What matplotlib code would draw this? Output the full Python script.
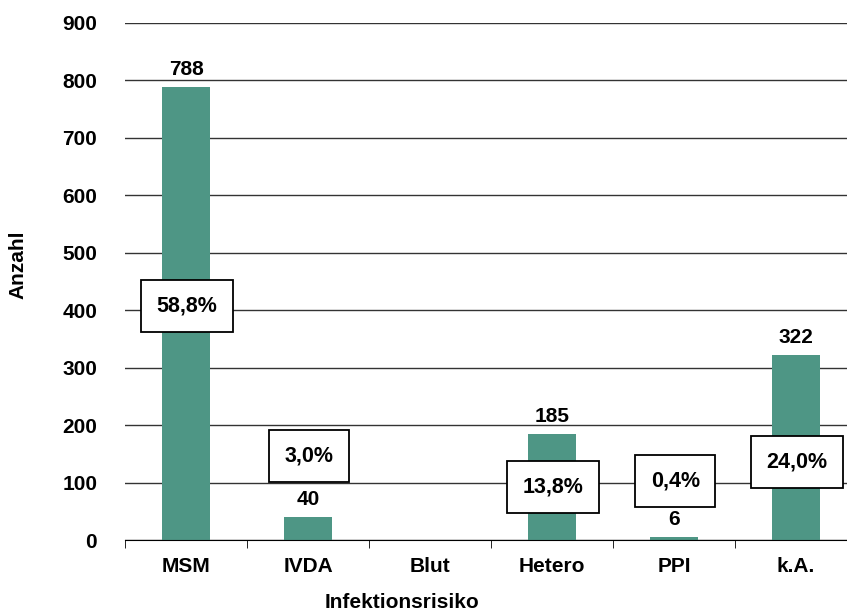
import matplotlib.pyplot as plt
import numpy as np

plt.rcParams['font.family'] = ['Liberation Sans', 'DejaVu Sans']
plt.rcParams['font.weight'] = 'bold'

kategorien = ['MSM', 'IVDA', 'Blut', 'Hetero', 'PPI', 'k.A.']
anzahl = [788, 40, 0, 185, 6, 322]
prozent = ['58,8%', '3,0%', '', '13,8%', '0,4%', '24,0%']
# y-Position der Prozent-Boxen
box_y = [408, 146, None, 92, 103, 136]

fig = plt.figure(figsize=(8.47, 6.12), dpi=100)
ax = fig.add_axes([125/847, 72/612, 732/847, 517/612])

x = np.arange(len(kategorien))
ax.bar(x, anzahl, width=0.4, color='#4E9685', zorder=2)

for i, v in enumerate(anzahl):
    if v > 0:
        ax.text(i, v + 14, str(v), ha='center', va='bottom', fontsize=15, fontweight='bold')
    if prozent[i]:
        ax.text(i + 0.01, box_y[i], prozent[i], ha='center', va='center', fontsize=15.5,
                fontweight='bold', zorder=4,
                bbox=dict(boxstyle='square,pad=0.72', fc='white', ec='black', lw=1.3))

ax.set_xlim(-0.5, 5.5)
ax.set_ylim(0, 900)
ax.set_yticks(range(0, 901, 100))
ax.yaxis.grid(True, color='#333333', lw=1)
ax.set_axisbelow(True)
ax.tick_params(axis='y', length=0, labelsize=15, pad=20)
ax.set_xticks(x)
ax.set_xticklabels(kategorien, fontsize=15, fontweight='bold')
ax.set_xticks(np.arange(-0.5, 6, 1), minor=True)
ax.tick_params(axis='x', which='major', length=0, pad=12)
ax.tick_params(axis='x', which='minor', length=6, direction='out')
for s in ['top', 'right', 'left']:
    ax.spines[s].set_visible(False)
ax.spines['bottom'].set_color('black')

fig.text(18/847, 1 - 265/612, 'Anzahl', rotation=90, ha='center', va='center', fontsize=15, fontweight='bold')
fig.text(402/847, 1 - 603/612, 'Infektionsrisiko', ha='center', va='center', fontsize=15, fontweight='bold')

fig.savefig('out.png', dpi=100)
